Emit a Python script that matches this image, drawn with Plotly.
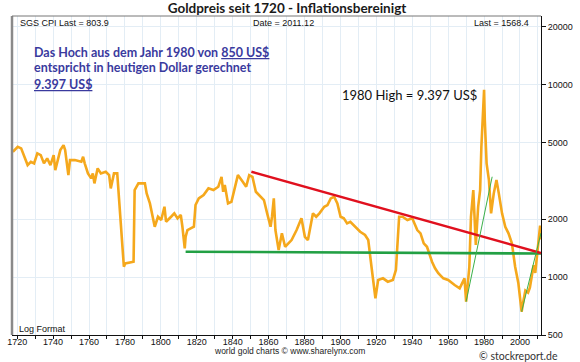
import plotly.graph_objects as go

# ---- data ----
years = [1717.6, 1720.3, 1722.2, 1724.0, 1725.8, 1727.6, 1729.4, 1731.2, 1733.1, 1734.9,
         1736.7, 1738.5, 1740.3, 1741.2, 1743.0, 1744.0, 1745.8, 1746.7, 1748.5, 1749.4,
         1752.1, 1755.7, 1756.7, 1757.6, 1759.4, 1761.2, 1762.1, 1763.0, 1764.8, 1766.6,
         1769.3, 1771.2, 1772.1, 1773.9, 1775.7, 1776.6, 1777.5, 1778.4, 1779.4, 1780.2,
         1784.8, 1785.4, 1786.6, 1787.5, 1791.1, 1792.1, 1793.9, 1795.7, 1796.6, 1798.4,
         1800.2, 1802.0, 1802.9, 1805.7, 1807.5, 1809.3, 1811.1, 1812.0, 1813.3, 1813.8,
         1814.8, 1816.6, 1818.4, 1819.3, 1821.1, 1823.8, 1826.5, 1829.3, 1832.0, 1833.8,
         1834.7, 1835.6, 1837.4, 1839.3, 1841.1, 1842.9, 1845.6, 1847.5, 1849.2, 1851.0,
         1852.9, 1855.6, 1857.4, 1859.2, 1861.1, 1861.9, 1862.9, 1863.8, 1865.6, 1867.4,
         1869.2, 1872.8, 1875.6, 1878.3, 1880.2, 1881.9, 1884.7, 1886.5, 1888.3, 1891.0,
         1892.8, 1894.6, 1896.5, 1898.3, 1900.1, 1901.9, 1903.7, 1905.5, 1908.2, 1911.0,
         1913.7, 1915.5, 1917.3, 1919.5, 1921.0, 1923.7, 1926.4, 1929.2, 1930.9, 1932.7,
         1934.6, 1937.3, 1940.0, 1942.8, 1944.6, 1946.4, 1948.2, 1951.0, 1952.7, 1954.5,
         1957.3, 1960.0, 1963.6, 1966.4, 1969.1, 1970.0, 1971.8, 1972.7, 1974.0, 1975.4,
         1976.7, 1977.8, 1978.5, 1980.0, 1980.4, 1981.4, 1982.7, 1983.9, 1985.4, 1986.9,
         1988.2, 1990.0, 1991.8, 1993.6, 1995.5, 1997.3, 1999.1, 2000.9, 2002.0, 2003.0,
         2004.5, 2005.5, 2006.5, 2007.5, 2008.5, 2009.5, 2010.5, 2011.2, 2011.7]
gold_real = [4474, 4750, 4660, 4215, 3816, 3970, 3895, 4389, 4300, 3895,
             4133, 3816, 4300, 3595, 4300, 4565, 4847, 4565, 3386, 4051,
             4051, 3970, 4215, 3895, 3456, 3256, 3456, 3066, 3668, 3456,
             3523, 3386, 2888, 3456, 3456, 2613, 2057, 1557, 1131, 1178,
             1201, 2830, 2944, 3066, 3066, 2721, 2414, 1978, 1825, 2057,
             1978, 2318, 1938, 2057, 2142, 2018, 2100, 1825, 1410, 1619,
             1754, 1791, 1825, 2366, 2563, 2667, 2888, 2830, 2944, 3318,
             2773, 3004, 2414, 2461, 2888, 3386, 3126, 2944, 3386, 3318,
             2773, 2613, 2512, 2142, 1825, 2057, 2563, 1754, 1381, 1687,
             1437, 1557, 1754, 2018, 1619, 1557, 2142, 2057, 2142, 2318,
             2366, 2563, 2613, 2414, 2057, 2018, 1901, 1938, 1825, 1719,
             1653, 1557, 1131, 776, 965, 985, 946, 965, 1088, 2057,
             2057, 1978, 2018, 1754, 1687, 1497, 1437, 1201, 1110, 1046,
             985, 965, 909, 874, 985, 745, 1131, 2057, 2830, 1467,
             2318, 2830, 4750, 9397, 6537, 3895, 3190, 2142, 2721, 3190,
             2721, 2142, 1825, 1687, 1497, 1131, 928, 661, 760, 850,
             830, 880, 1000, 1150, 1050, 1350, 1600, 1850, 1568]

resistance_years = [1850.4, 2011.7]   # red falling trend line
resistance_vals = [3523, 1333]
support_years = [1813.8, 2011.7]      # green horizontal support
support_vals = [1354, 1325]
rise1_years = [1970.0, 1984.5]        # thin green rise 1970s
rise1_vals = [745, 3319]
rise2_years = [2000.9, 2011.7]        # thin green rise 2000s
rise2_vals = [661, 1693]

x_tick_years = list(range(1720, 2011, 10))
x_tick_labels = [str(y) if y % 20 == 0 else "" for y in x_tick_years]
y_tick_vals = [500, 1000, 2000, 5000, 10000, 20000]
y_tick_labels = ["500", "1000", "2000", "5000", "10000", "20000"]

# ---- layout geometry (pixels) ----
W, H = 580, 362
L, R, T, B = 7, 548, 16, 335


def px(x):
    return (x - L) / (R - L)


def py(y):
    return (B - y) / (B - T)


fig = go.Figure()
fig.add_trace(go.Scatter(x=years, y=gold_real, mode="lines",
                         line=dict(color="#f5a81c", width=2.6), hoverinfo="skip"))
fig.add_trace(go.Scatter(x=support_years, y=support_vals, mode="lines",
                         line=dict(color="#22a044", width=2.6), hoverinfo="skip"))
fig.add_trace(go.Scatter(x=resistance_years, y=resistance_vals, mode="lines",
                         line=dict(color="#e0101e", width=2.4), hoverinfo="skip"))
fig.add_trace(go.Scatter(x=rise1_years, y=rise1_vals, mode="lines",
                         line=dict(color="#3cb04a", width=1), hoverinfo="skip"))
fig.add_trace(go.Scatter(x=rise2_years, y=rise2_vals, mode="lines",
                         line=dict(color="#3cb04a", width=1), hoverinfo="skip"))

small = dict(family="Liberation Sans", size=9, color="#111")
blue = dict(family="Lato", size=12.5, color="#3a3a9e", weight="bold")

ann = []


def add(text, x, y, xanchor="left", font=small):
    ann.append(dict(text=text, x=px(x), y=py(y), xref="paper", yref="paper",
                    xanchor=xanchor, yanchor="middle", showarrow=False, font=font))


add("SGS CPI Last = 803.9", 13, 23.5)
add("Date = 2011.12", 285, 23.5, "center")
add("Last = 1568.4", 538, 23.5, "right")
add("Log Format", 12, 329)
add("Das Hoch aus dem Jahr 1980 von <u>850 US$</u>", 27, 52, font=blue)
add("entspricht in heutigen Dollar gerechnet", 27, 68, font=blue)
add("<u>9.397 US$</u>", 27, 84, font=blue)
add("1980 High = 9.397 US$", 342, 95, font=dict(family="Lato", size=13, color="#111"))
add("world gold charts \u00a9 www.sharelynx.com", 291, 350.5, "center",
    font=dict(family="Liberation Sans", size=8.5, color="#222"))
add("\u00a9 stockreport.de", 567, 355.5, "right",
    font=dict(family="Lato", size=10.5, color="#333"))

fig.update_layout(
    width=W, height=H,
    margin=dict(l=L, r=W - R, t=T, b=H - B),
    paper_bgcolor="white", plot_bgcolor="white",
    showlegend=False,
    title=dict(text="<b>Goldpreis seit 1720 - Inflationsbereinigt</b>",
               x=287 / W, xanchor="center", xref="container",
               y=1 - 8 / H, yanchor="middle", yref="container",
               font=dict(family="Lato", size=13.5, color="#1a1a1a")),
    annotations=ann,
    shapes=[
        dict(type="line", xref="paper", yref="paper", x0=0, x1=0, y0=0, y1=1,
             line=dict(color="#8a8a8a", width=2.5)),
        dict(type="line", xref="paper", yref="paper", x0=0, x1=1, y0=1, y1=1,
             line=dict(color="#777", width=1)),
    ],
)
fig.update_xaxes(range=[1717.1, 2011.7], tickvals=x_tick_years, ticktext=x_tick_labels,
                 ticks="outside", ticklen=3, tickcolor="#111", tickfont=small,
                 ticklabelstandoff=-5,
                 showgrid=True, gridcolor="#e3edf5", gridwidth=1,
                 showline=True, linecolor="#111", linewidth=1, zeroline=False)
fig.update_yaxes(type="log", side="right", range=[2.699, 4.356],
                 tickvals=y_tick_vals, ticktext=y_tick_labels,
                 ticks="outside", ticklen=4, tickcolor="#111", tickfont=small,
                 showgrid=True, gridcolor="#e3edf5", gridwidth=1,
                 showline=True, linecolor="#111", linewidth=1, zeroline=False)

fig.write_html("out.html",
               config={"displayModeBar": False},
               post_script="document.body.style.margin='0px';"
                           "document.body.style.overflow='hidden';")
